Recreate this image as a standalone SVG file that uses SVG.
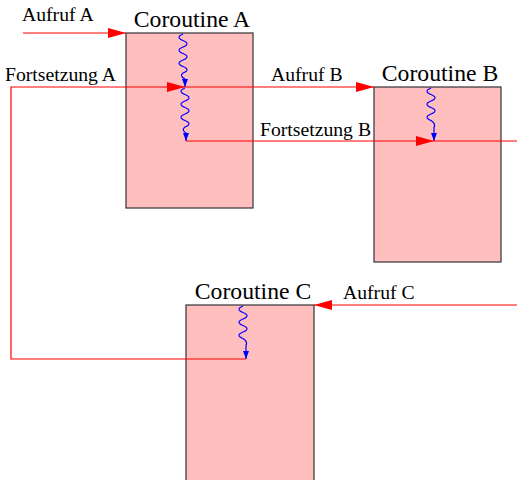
<svg xmlns="http://www.w3.org/2000/svg" width="517" height="480" viewBox="0 0 517 480">
<style>
.box{fill:#ffbfbf;stroke:#333;stroke-width:1.2}
text{font-family:"Liberation Serif","DejaVu Serif","Times New Roman",serif;fill:#000}
.title{font-size:23.7px}
.lbl{font-size:19.7px}
.red{fill:none;stroke:#ff0000;stroke-width:1.2}
.wave{fill:none;stroke:#0000ff;stroke-width:1.2}
</style>
<defs>
<marker id="ar" markerUnits="userSpaceOnUse" markerWidth="18" markerHeight="10" refX="18" refY="5" orient="auto">
<path d="M0,0 L18,5 L0,10 z" fill="#ff0000"/>
</marker>
<marker id="ab" markerUnits="userSpaceOnUse" markerWidth="8" markerHeight="6" refX="8" refY="3" orient="auto">
<path d="M0,0 L8,3 L0,6 z" fill="#0000ff"/>
</marker>
</defs>
<g id="coroutineA">
<rect class="box" x="126" y="33" width="127" height="175"/>
<text class="title" x="192" y="27" text-anchor="middle">Coroutine A</text>
<path class="wave" d="M183,34 q-8,3.25 0,6.5 q8,3.25 0,6.5 q-8,3.25 0,6.5 q8,3.25 0,6.5 q-8,3.25 0,6.5 q8,3.25 0,6.5 q-4,3 2,6 L185,87" marker-end="url(#ab)"/>
<path class="wave" d="M185,88 q-8,3.25 0,6.5 q8,3.25 0,6.5 q-8,3.25 0,6.5 q8,3.25 0,6.5 q-8,3.25 0,6.5 q8,3.25 0,6.5 q-4,3 1,6 L186,141" marker-end="url(#ab)"/>
</g>
<g id="coroutineB">
<rect class="box" x="374" y="87" width="127" height="175"/>
<text class="title" x="440" y="80.5" text-anchor="middle">Coroutine B</text>
<path class="wave" d="M431,88 q-8,3.25 0,6.5 q8,3.25 0,6.5 q-8,3.25 0,6.5 q8,3.25 0,6.5 q-8,3.25 0,6.5 q5,3 3,7 L434,141" marker-end="url(#ab)"/>
</g>
<g id="coroutineC">
<rect class="box" x="186" y="305" width="128" height="180"/>
<text class="title" x="253" y="298.5" text-anchor="middle">Coroutine C</text>
<path class="wave" d="M243,306 q-8,3.25 0,6.5 q8,3.25 0,6.5 q-8,3.25 0,6.5 q8,3.25 0,6.5 q-8,3.25 0,6.5 q5,3 3,7 L246,359" marker-end="url(#ab)"/>
</g>
<g id="connectors">
<path class="red" d="M23,33 H126" marker-end="url(#ar)"/>
<text class="lbl" x="22" y="20.5">Aufruf A</text>
<path class="red" d="M246,359 H11 V87 H185" marker-end="url(#ar)"/>
<text class="lbl" x="5" y="81">Fortsetzung A</text>
<path class="red" d="M185,87 H374" marker-end="url(#ar)"/>
<text class="lbl" x="271" y="80.5">Aufruf B</text>
<path class="red" d="M186,141 H434" marker-end="url(#ar)"/>
<path class="red" d="M434,141 H517"/>
<text class="lbl" x="260" y="136">Fortsetzung B</text>
<path class="red" d="M517,305 H314" marker-end="url(#ar)"/>
<text class="lbl" x="343" y="298.5">Aufruf C</text>
</g>
</svg>
